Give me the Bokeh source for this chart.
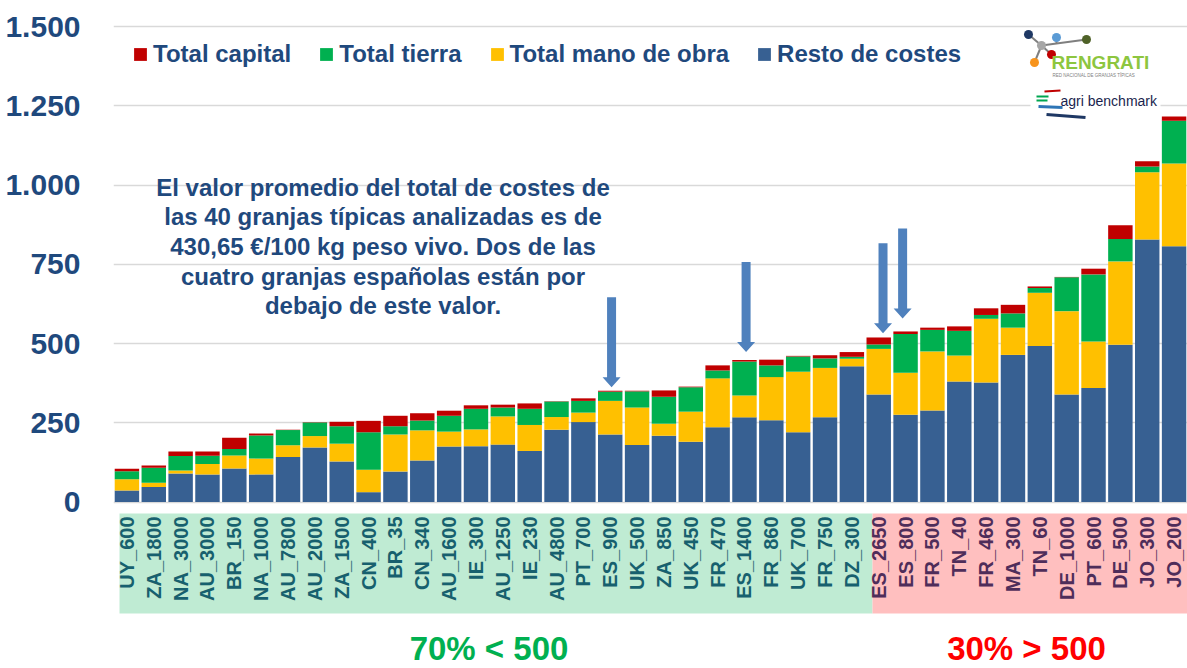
import math
from bokeh.plotting import figure
from bokeh.models import (ColumnDataSource, FactorRange, Range1d, FixedTicker,
                          Legend, LegendItem)
from bokeh.core.properties import value
from bokeh.embed import file_html
from bokeh.resources import INLINE

# ---------------- data ----------------
farms = ["UY_600", "ZA_1800", "NA_3000", "AU_3000", "BR_150", "NA_1000", "AU_7800",
         "AU_2000", "ZA_1500", "CN_400", "BR_35", "CN_340", "AU_1600", "IE_300",
         "AU_1250", "IE_230", "AU_4800", "PT_700", "ES_900", "UK_500", "ZA_850",
         "UK_450", "FR_470", "ES_1400", "FR_860", "UK_700", "FR_750", "DZ_300",
         "ES_2650", "ES_800", "FR_500", "TN_40", "FR_460", "MA_300", "TN_60",
         "DE_1000", "PT_600", "DE_500", "JO_300", "JO_200"]
resto = [36, 47, 90, 87, 106, 87, 142, 172, 128, 31,
         96, 131, 175, 176, 181, 161, 228, 252, 213, 180,
         209, 190, 236, 267, 258, 220, 267, 428, 339, 275,
         289, 380, 377, 464, 492, 339, 360, 496, 828, 807]
mano = [36, 14, 9, 33, 41, 50, 37, 36, 56, 71,
        117, 95, 47, 53, 89, 82, 40, 30, 106, 118,
        38, 95, 154, 69, 136, 191, 156, 24, 144, 133,
        186, 82, 201, 86, 168, 263, 146, 263, 212, 261]
tierra = [25, 47, 46, 26, 20, 73, 48, 43, 55, 118,
          26, 31, 50, 65, 28, 51, 49, 37, 29, 51,
          85, 77, 25, 107, 37, 48, 30, 6, 14, 122,
          68, 78, 12, 45, 15, 107, 212, 71, 18, 135]
capital = [8, 7, 14, 13, 36, 6, 1, 1, 14, 36,
           33, 23, 16, 11, 9, 17, 1, 8, 3, 2,
           20, 2, 16, 5, 18, 2, 10, 15, 22, 8,
           7, 14, 21, 27, 5, 1, 18, 43, 17, 13]
series_names = ["Resto de costes", "Total mano de obra", "Total tierra", "Total capital"]
y_ticks = [0, 250, 500, 750, 1000, 1250, 1500]
y_tick_labels = ["0", "250", "500", "750", "1.000", "1.250", "1.500"]
note_lines = ["El valor promedio del total de costes de",
              "las 40 granjas típicas analizadas es de",
              "430,65 €/100 kg peso vivo. Dos de las",
              "cuatro granjas españolas están por",
              "debajo de este valor."]
group_low_label = "70% < 500"
group_high_label = "30% > 500"
n_low = 28  # farms below 500
spanish_arrows = ["ES_900", "ES_1400", "ES_2650", "ES_800"]

# ---------------- style ----------------
C_BLUE = "#376092"
C_YEL = "#FFC000"
C_GRN = "#00B050"
C_RED = "#C00000"
C_TXT = "#1F497D"
FONT = "Liberation Sans"
W, H = 1187, 668

# page-pixel -> data helpers (for decorations only)
FL, FR = 113.0, 1187.0
PITCH = (FR - FL) / len(farms)
Y0, PPU = 501.5, 0.317


def xd(px):
    return (px - FL) / PITCH


def yd(py):
    return (Y0 - py) / PPU


p = figure(width=W, height=H, x_range=FactorRange(*farms),
           y_range=Range1d(yd(H), yd(0)), output_backend="svg",
           toolbar_location=None, x_axis_location=None,
           min_border_left=int(FL), min_border_right=0, min_border_top=0,
           min_border_bottom=0, outline_line_color=None)
p.background_fill_color = "white"
p.border_fill_color = "white"
for g in p.grid:
    if g.dimension == 0:
        g.visible = False

# y axis
p.yaxis.ticker = FixedTicker(ticks=y_ticks)
p.yaxis.major_label_overrides = {t: l for t, l in zip(y_ticks, y_tick_labels)}
p.yaxis.axis_line_color = None
p.yaxis.major_tick_line_color = None
p.yaxis.minor_tick_line_color = None
p.yaxis.major_label_text_font = FONT
p.yaxis.major_label_text_font_size = "30px"
p.yaxis.major_label_text_font_style = "bold"
p.yaxis.major_label_text_color = C_TXT
p.yaxis.major_label_standoff = 27
p.ygrid.grid_line_color = "#D9D9D9"
p.ygrid.grid_line_width = 1.5

# label bands
n = len(farms)
p.quad(left=[xd(119), xd(872)], right=[xd(872), n], top=[yd(513), yd(513)],
       bottom=[yd(613), yd(613)], fill_color=["#BFEBD3", "#FFBFBF"], line_color=None)

# bars
src = ColumnDataSource(dict(farm=farms, resto=resto, mano=mano, tierra=tierra,
                            capital=capital))
rs = p.vbar_stack(["resto", "mano", "tierra", "capital"], x="farm", width=0.91,
                  color=[C_BLUE, C_YEL, C_GRN, C_RED], line_color=None, source=src)

# farm labels
lab_col = ["#17606E" if i < n_low else "#4F2D5A" for i in range(n)]
p.text(x=farms, y=[yd(516)] * n, text=farms, angle=math.pi / 2,
       text_align="right", text_baseline="middle", text_color=lab_col,
       text_font=value(FONT), text_font_size="20px", text_font_style="bold")

# group labels
p.text(x=[xd(488.5), xd(1026)], y=[yd(648), yd(648)],
       text=[group_low_label, group_high_label], text_color=[C_GRN, "#FF0000"],
       text_align="center", text_baseline="middle", text_font=value(FONT),
       text_font_size="33px", text_font_style="bold")

# note text
p.text(x=[xd(382.5)] * len(note_lines),
       y=[yd(186.6 + 29.7 * i) for i in range(len(note_lines))],
       text=note_lines, text_color=C_TXT, text_align="center",
       text_baseline="middle", text_font=value(FONT), text_font_size="24px",
       text_font_style="bold")

# arrows pointing at Spanish farms
totals = [a + b + c + d for a, b, c, d in zip(resto, mano, tierra, capital)]
arrow_style = {"ES_900": (0.05, 11), "ES_1400": (0.06, 25),
               "ES_2650": (0.16, 13), "ES_800": (-0.11, 41)}
axs, ays = [], []
sh, hh = 4.5 / PITCH, 9 / PITCH
hl, L = 10 / PPU, 90 / PPU
for f in spanish_arrows:
    i = farms.index(f)
    off, gap = arrow_style[f]
    xc = i + 0.5 + off
    tip = totals[i] + gap
    top = tip + L
    axs.append([xc - sh, xc + sh, xc + sh, xc + hh, xc, xc - hh, xc - sh])
    ays.append([top, top, tip + hl, tip + hl, tip, tip + hl, tip + hl])
p.patches(axs, ays, fill_color="#4F81BD", line_color=None)

# legend
legend = Legend(items=[LegendItem(label=series_names[k], renderers=[rs[k]])
                       for k in (3, 2, 1, 0)],
                orientation="horizontal", location=(19, H - 68),
                border_line_color=None, background_fill_alpha=0,
                label_text_font=FONT, label_text_font_size="24px",
                label_text_font_style="bold", label_text_color=C_TXT,
                glyph_width=16, glyph_height=16, label_standoff=5, spacing=27,
                padding=0, margin=0)
p.add_layout(legend)

# logos (decoration)
p.quad(left=[xd(1030)], right=[xd(1160)], top=[yd(86)], bottom=[yd(122)],
       fill_color="white", line_color=None)
nodes_x = [1028, 1056, 1086, 1041, 1051, 1034]
nodes_y = [34, 37, 39, 45, 54, 62]
p.segment(x0=[xd(1028), xd(1041), xd(1056), xd(1041), xd(1041)],
          y0=[yd(34), yd(45), yd(37), yd(45), yd(45)],
          x1=[xd(1041), xd(1086), xd(1056), xd(1051), xd(1034)],
          y1=[yd(45), yd(39), yd(43), yd(54), yd(62)],
          line_color="#7F7F7F", line_width=2)
p.scatter(x=[xd(v) for v in nodes_x], y=[yd(v) for v in nodes_y], size=9,
          fill_color=["#1F3864", "#5B9BD5", "#4F6228", "#A6A6A6", "#C00000", "#F7941D"],
          line_color=None)
p.text(x=[xd(1051)], y=[yd(62)], text=["RENGRATI"], text_color="#8DC63F",
       text_baseline="middle", text_font=value(FONT), text_font_size="19px",
       text_font_style="bold")
p.text(x=[xd(1052)], y=[yd(75)], text=["RED NACIONAL DE GRANJAS TÍPICAS"],
       text_color="#808080", text_baseline="middle", text_font=value(FONT),
       text_font_size="4.5px")
p.text(x=[xd(1060)], y=[yd(100)], text=["agri benchmark"], text_color="#1A1F4E",
       text_baseline="middle", text_font=value(FONT), text_font_size="14px")
p.segment(x0=[xd(1044), xd(1036), xd(1036), xd(1038), xd(1046)],
          y0=[yd(91), yd(96), yd(100), yd(106), yd(114)],
          x1=[xd(1060), xd(1048), xd(1047), xd(1062), xd(1085)],
          y1=[yd(90), yd(96), yd(100), yd(107), yd(117)],
          line_color=["#C00000", "#00A650", "#00A650", "#2E75B6", "#1F3864"],
          line_width=[2, 2, 2, 3, 3])

open("out.html", "w").write(file_html(p, INLINE))
